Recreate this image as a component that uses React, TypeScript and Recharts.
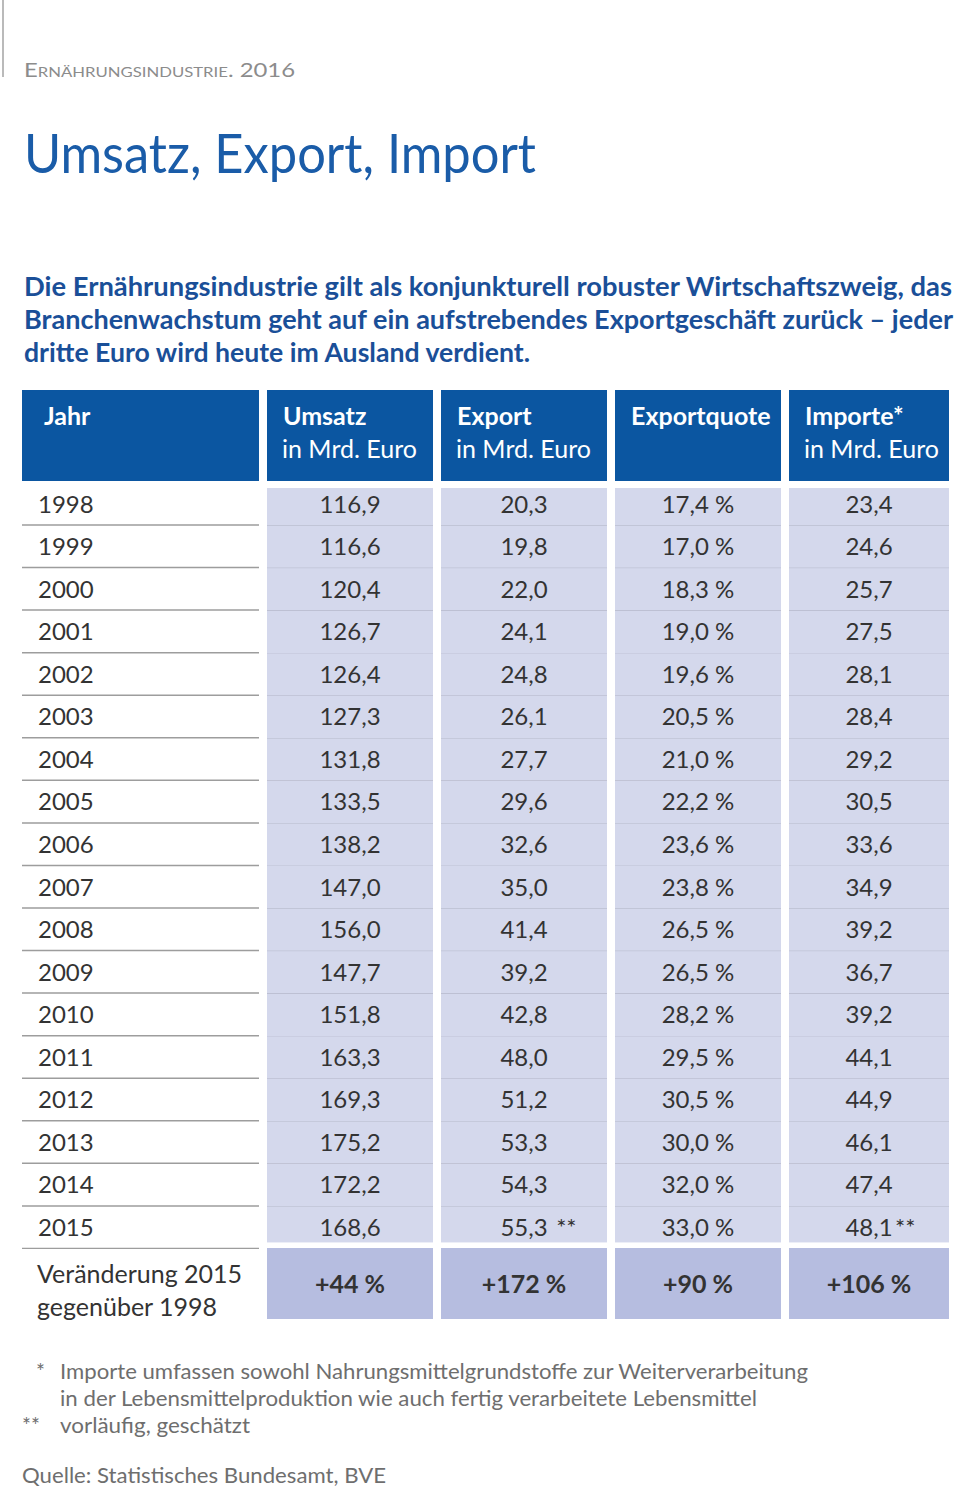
import { ComposedChart, Bar, XAxis, YAxis } from 'recharts';

const years = ['1998', '1999', '2000', '2001', '2002', '2003', '2004', '2005', '2006', '2007', '2008', '2009', '2010', '2011', '2012', '2013', '2014', '2015'];
const umsatz = [116.9, 116.6, 120.4, 126.7, 126.4, 127.3, 131.8, 133.5, 138.2, 147.0, 156.0, 147.7, 151.8, 163.3, 169.3, 175.2, 172.2, 168.6];
const exporte = [20.3, 19.8, 22.0, 24.1, 24.8, 26.1, 27.7, 29.6, 32.6, 35.0, 41.4, 39.2, 42.8, 48.0, 51.2, 53.3, 54.3, 55.3];
const exportquote = [17.4, 17.0, 18.3, 19.0, 19.6, 20.5, 21.0, 22.2, 23.6, 23.8, 26.5, 26.5, 28.2, 29.5, 30.5, 30.0, 32.0, 33.0];
const importe = [23.4, 24.6, 25.7, 27.5, 28.1, 28.4, 29.2, 30.5, 33.6, 34.9, 39.2, 36.7, 39.2, 44.1, 44.9, 46.1, 47.4, 48.1];
const provisionalYear = '2015';

const headTitles = ['Jahr', 'Umsatz', 'Export', 'Exportquote', 'Importe*'];
const headUnits = ['', 'in Mrd. Euro', 'in Mrd. Euro', '', 'in Mrd. Euro'];
const changeLabel = ['Veränderung 2015', 'gegenüber 1998'];
const changeValues = ['+44 %', '+172 %', '+90 %', '+106 %'];

// layout
const COL_W = [245, 174, 174, 174, 160];
const GAP = 8;
const TABLE_W = COL_W.reduce((a, b) => a + b, 0);
const FONT = 'Lato, "Open Sans", sans-serif';
const BLUE = '#0b56a1';
const LAV = '#d4d8ec';
const LAV_DARK = '#b6bde0';
const TXT = '#333333';
const CHANGE_PAD = 8; // room below the last row for descenders

const fmt = (v: number) => v.toFixed(1).replace('.', ',');

type Cell = { text: string; note?: string };
type Row = { key: string; cells: Cell[] };

const dataRows: Row[] = years.map((y, i) => {
  const prov = y === provisionalYear;
  return {
    key: y,
    cells: [
      { text: y },
      { text: fmt(umsatz[i]) },
      { text: fmt(exporte[i]), note: prov ? ' **' : undefined },
      { text: `${fmt(exportquote[i])} %` },
      { text: fmt(importe[i]), note: prov ? '**' : undefined },
    ],
  };
});

const headRows: Row[] = [{ key: 'head', cells: headTitles.map((t, i) => ({ text: t, note: headUnits[i] })) }];
const changeRows: Row[] = [{ key: 'change', cells: [{ text: changeLabel[0], note: changeLabel[1] }, ...changeValues.map((v) => ({ text: v }))] }];

function TableBand({ rows, height, renderCell }: { rows: Row[]; height: number; renderCell: (p: any, c: number) => any }) {
  const data = rows.map((r) => {
    const o: any = { ...r };
    COL_W.forEach((w, i) => (o['w' + i] = w));
    return o;
  });
  return (
    <ComposedChart
      layout="vertical"
      width={TABLE_W}
      height={height}
      data={data}
      margin={{ top: 0, right: 0, bottom: 0, left: 0 }}
      barCategoryGap={0}
      barGap={0}
    >
      <XAxis type="number" hide domain={[0, TABLE_W]} />
      <YAxis type="category" dataKey="key" hide />
      {COL_W.map((_, c) => (
        <Bar
          key={c}
          dataKey={'w' + c}
          stackId="row"
          isAnimationActive={false}
          shape={(p: any) => renderCell(p, c)}
        />
      ))}
    </ComposedChart>
  );
}

const innerW = (width: number, c: number) => width - (c < COL_W.length - 1 ? GAP : 0);

function headCell(p: any, c: number) {
  const { x, y, width, height, payload } = p;
  const w = innerW(width, c);
  const cell: Cell = payload.cells[c];
  const pad = c === 0 ? 22 : 16;
  return (
    <g>
      <rect x={x} y={y} width={w} height={height} fill={BLUE} />
      <text x={x + pad} y={y + 35} fill="#fff" fontSize={25} fontWeight={700} fontFamily={FONT}>{cell.text}</text>
      {cell.note ? (
        <text x={x + 15} y={y + 68} fill="#fff" fontSize={25} fontFamily={FONT}>{cell.note}</text>
      ) : null}
    </g>
  );
}

function dataCell(p: any, c: number) {
  const { x, y, width, height, payload, index } = p;
  const w = innerW(width, c);
  const cell: Cell = payload.cells[c];
  const last = index === years.length - 1;
  const base = y + height / 2 + 8;
  if (c === 0) {
    return (
      <g>
        <line x1={x} x2={x + w} y1={y + height - 1} y2={y + height - 1} stroke="#9d9d9d" strokeWidth={1.5} />
        <text x={x + 16} y={base} fill={TXT} fontSize={24} fontFamily={FONT}>{cell.text}</text>
      </g>
    );
  }
  const top = index === 0 ? y + 5 : y;
  const bottom = last ? y + height - 7 : y + height;
  const cx = x + w / 2;
  return (
    <g>
      <rect x={x} y={top} width={w} height={bottom - top} fill={LAV} />
      {!last ? <line x1={x} x2={x + w} y1={y + height} y2={y + height} stroke="#a7aaba" strokeWidth={1.5} /> : null}
      <text x={cx} y={base} textAnchor="middle" fill={TXT} fontSize={24} fontFamily={FONT}>{cell.text}</text>
      {cell.note ? (
        <text x={cx + 26} y={base} fill={TXT} fontSize={24} fontFamily={FONT} style={{ whiteSpace: 'pre' }}>{cell.note}</text>
      ) : null}
    </g>
  );
}

function changeCell(p: any, c: number) {
  const { x, y, width, height, payload } = p;
  const w = innerW(width, c);
  const h = height - CHANGE_PAD;
  const cell: Cell = payload.cells[c];
  if (c === 0) {
    return (
      <g>
        <text x={x + 15} y={y + 35} fill={TXT} fontSize={25} fontFamily={FONT}>{cell.text}</text>
        <text x={x + 15} y={y + 68} fill={TXT} fontSize={25} fontFamily={FONT}>{cell.note}</text>
      </g>
    );
  }
  return (
    <g>
      <rect x={x} y={y} width={w} height={h} fill={LAV_DARK} />
      <text x={x + w / 2} y={y + h / 2 + 9} textAnchor="middle" fill={TXT} fontSize={25} fontWeight={700} fontFamily={FONT}>{cell.text}</text>
    </g>
  );
}

export default function App() {
  return (
    <div style={{ position: 'absolute', left: 0, top: 0, width: 960, height: 1492, background: '#fff', overflow: 'hidden' }}>
      <svg width={960} height={1492} style={{ position: 'absolute', left: 0, top: 0 }} fontFamily={FONT}>
        <line x1={3} x2={3} y1={0} y2={77} stroke="#a3a3a3" strokeWidth={1.5} />
        <text x={24} y={77} fontSize={20} fill="#8c8c8c" style={{ fontVariant: 'small-caps' }} textLength={271} lengthAdjust="spacingAndGlyphs">
          Ernährungsindustrie. 2016
        </text>
        <text x={24} y={173} fontSize={55} fill="#1a5ca8" textLength={512} lengthAdjust="spacingAndGlyphs">
          Umsatz, Export, Import
        </text>
        <g fontSize={27} fontWeight={700} fill="#1a4f98">
          <text x={24} y={296} textLength={928} lengthAdjust="spacingAndGlyphs">
            Die Ernährungsindustrie gilt als konjunkturell robuster Wirtschaftszweig, das
          </text>
          <text x={24} y={329} textLength={929} lengthAdjust="spacingAndGlyphs">
            Branchenwachstum geht auf ein aufstrebendes Exportgeschäft zurück – jeder
          </text>
          <text x={24} y={362} textLength={506} lengthAdjust="spacingAndGlyphs">
            dritte Euro wird heute im Ausland verdient.
          </text>
        </g>
        <g fontSize={21} fill="#6e6e6e">
          <text x={36} y={1379}>*</text>
          <text x={60} y={1379} textLength={748} lengthAdjust="spacingAndGlyphs">
            Importe umfassen sowohl Nahrungsmittelgrundstoffe zur Weiterverarbeitung
          </text>
          <text x={60} y={1406} textLength={697} lengthAdjust="spacingAndGlyphs">
            in der Lebensmittelproduktion wie auch fertig verarbeitete Lebensmittel
          </text>
          <text x={22} y={1433}>**</text>
          <text x={60} y={1433} textLength={190} lengthAdjust="spacingAndGlyphs">
            vorläufig, geschätzt
          </text>
          <text x={22} y={1483} textLength={364} lengthAdjust="spacingAndGlyphs">
            Quelle: Statistisches Bundesamt, BVE
          </text>
        </g>
      </svg>
      <div style={{ position: 'absolute', left: 22, top: 390 }}>
        <TableBand rows={headRows} height={91} renderCell={headCell} />
      </div>
      <div style={{ position: 'absolute', left: 22, top: 483 }}>
        <TableBand rows={dataRows} height={766} renderCell={dataCell} />
      </div>
      <div style={{ position: 'absolute', left: 22, top: 1248 }}>
        <TableBand rows={changeRows} height={71 + CHANGE_PAD} renderCell={changeCell} />
      </div>
    </div>
  );
}
